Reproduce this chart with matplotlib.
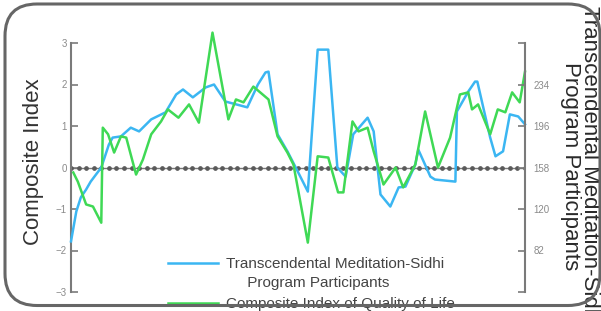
import numpy as np
import matplotlib
matplotlib.use('Agg')
import matplotlib.pyplot as plt
from matplotlib.patches import FancyBboxPatch
from matplotlib.lines import Line2D

plt.rcParams['font.family'] = ['Liberation Sans', 'DejaVu Sans']

# TM-Sidhi participants (plotted against left composite scale)
tm_years = [1960.0, 1960.7, 1961.3, 1962.0, 1962.6, 1964.0, 1965.0, 1965.5, 1966.6, 1967.9,
            1969.0, 1970.6, 1972.5, 1973.9, 1974.8, 1976.1, 1977.8, 1978.9, 1980.4, 1983.3,
            1984.7, 1985.7, 1986.1, 1987.3, 1988.6, 1989.7, 1991.3, 1992.6, 1994.0, 1995.2,
            1996.3, 1997.3, 1999.2, 2000.0, 2000.9, 2002.2, 2003.3, 2004.2, 2005.5, 2005.9,
            2007.5, 2008.1, 2010.8, 2011.0, 2012.5, 2013.4, 2013.7, 2015.4, 2016.1, 2017.1,
            2018.0, 2019.1, 2020.0]
tm_values = [-1.78, -1.06, -0.72, -0.53, -0.34, 0.0, 0.55, 0.72, 0.75, 0.96,
             0.87, 1.16, 1.33, 1.76, 1.88, 1.69, 1.93, 2.0, 1.59, 1.45,
             2.0, 2.29, 2.31, 0.80, 0.39, 0.0, -0.58, 2.84, 2.84, 0.0,
             -0.22, 0.80, 1.20, 0.87, -0.65, -0.94, -0.48, -0.46, 0.07, 0.43,
             -0.22, -0.29, -0.34, 1.35, 1.83, 2.07, 2.07, 0.72, 0.27, 0.39,
             1.28, 1.23, 1.04]

# Composite index of quality of life
qol_years = [1960.3, 1960.9, 1962.0, 1962.9, 1964.0, 1964.2, 1964.9, 1965.7, 1966.6, 1967.3,
             1968.6, 1969.5, 1970.6, 1971.9, 1972.8, 1974.2, 1975.6, 1976.9, 1978.7, 1980.8,
             1981.8, 1982.8, 1984.1, 1986.1, 1987.3, 1988.6, 1989.4, 1991.3, 1992.6, 1994.0,
             1995.3, 1996.0, 1997.2, 1998.0, 1999.2, 2000.0, 2001.3, 2002.9, 2003.9, 2005.5,
             2006.8, 2008.5, 2010.1, 2011.4, 2012.5, 2013.0, 2013.8, 2015.4, 2016.4, 2017.4,
             2018.3, 2019.3, 2020.0]
qol_values = [-0.12, -0.34, -0.89, -0.94, -1.33, 0.96, 0.80, 0.36, 0.75, 0.72,
              -0.17, 0.19, 0.80, 1.11, 1.40, 1.20, 1.52, 1.08, 3.25, 1.16,
              1.64, 1.57, 1.95, 1.64, 0.75, 0.36, 0.07, -1.81, 0.27, 0.24,
              -0.60, -0.60, 1.11, 0.87, 0.96, 0.39, -0.41, 0.0, -0.48, 0.07,
              1.35, 0.0, 0.72, 1.76, 1.81, 1.40, 1.52, 0.80, 1.40, 1.33,
              1.81, 1.57, 2.31]

baseline_years = np.arange(1960, 2021)
left_ticks = [-3, -2, -1, 0, 1, 2, 3]
right_ticks = [44, 82, 120, 158, 196, 234, 272]
right_labels = ['', '82', '120', '158', '196', '234', '']

blue = '#3bb6f2'
green = '#3fd955'
tick_col = '#8a8a8a'

fig = plt.figure(figsize=(6.01, 3.11), dpi=100)
ax = fig.add_axes([71 / 601, 1 - 292 / 311, (525 - 71) / 601, (292 - 43) / 311])

ax.plot(baseline_years, np.zeros(len(baseline_years)), color='#777777', lw=1,
        marker='o', ms=2.4, mfc='#5a5a5a', mec='#5a5a5a', zorder=2)
ax.plot(tm_years, tm_values, color=blue, lw=1.8, zorder=3, clip_on=False)
ax.plot(qol_years, qol_values, color=green, lw=1.8, zorder=4, clip_on=False)

ax.set_xlim(1960, 2020)
ax.set_ylim(-3, 3)
ax.set_xticks([])
ax.set_yticks(left_ticks)
for s in ['top', 'bottom', 'right']:
    ax.spines[s].set_visible(False)
ax.spines['left'].set_color('#7a7a7a')
ax.spines['left'].set_linewidth(1.5)
ax.tick_params(axis='y', direction='in', length=5, width=1.2, color='#7a7a7a',
               labelsize=7, labelcolor=tick_col, pad=3)

ax2 = ax.twinx()
ax2.set_ylim(44, 272)
ax2.set_yticks(right_ticks)
ax2.set_yticklabels(right_labels)
for s in ['top', 'bottom', 'left']:
    ax2.spines[s].set_visible(False)
ax2.spines['right'].set_color('#7a7a7a')
ax2.spines['right'].set_linewidth(1.5)
ax2.tick_params(axis='y', direction='in', length=5, width=1.2, color='#7a7a7a',
                labelsize=7, labelcolor=tick_col, pad=6)

# legend: two pieces so the blue handle sits on the first text line
h_blue = Line2D([], [], color=blue, lw=1.8)
h_none = Line2D([], [], color='none')
h_green = Line2D([], [], color=green, lw=1.8)
leg1 = ax2.legend([h_blue, h_none],
                  ['Transcendental Meditation-Sidhi', '     Program Participants'],
                  loc='upper left', bbox_to_anchor=(168 / 601, 1 - 257 / 311),
                  bbox_transform=fig.transFigure, frameon=False, fontsize=11,
                  handlelength=3.3, handletextpad=0.5, labelspacing=0.3,
                  borderpad=0, borderaxespad=0)
for t in leg1.get_texts():
    t.set_color('#444444')
ax2.add_artist(leg1)
leg2 = ax2.legend([h_green], ['Composite Index of Quality of Life'],
                  loc='upper left', bbox_to_anchor=(168 / 601, 1 - 297 / 311),
                  bbox_transform=fig.transFigure, frameon=False, fontsize=11,
                  handlelength=3.3, handletextpad=0.5,
                  borderpad=0, borderaxespad=0)
for t in leg2.get_texts():
    t.set_color('#444444')

fig.text(34 / 601, 1 - 162 / 311, 'Composite Index', rotation=90, fontsize=16,
         color='#333333', ha='center', va='center')
rlab = fig.text(580 / 601, 1 - 166 / 311,
                'Transcendental Meditation-Sidhi\nProgram Participants',
                rotation=270, fontsize=16, color='#2a2a2a', ha='center', va='center',
                multialignment='center', linespacing=0.92)

# rounded frame round the whole picture
box = FancyBboxPatch((0.05, 0.055), 5.95, 3.015,
                     boxstyle='round,pad=0,rounding_size=0.32',
                     transform=fig.dpi_scale_trans, fc='none', ec='#666666',
                     lw=2.2, zorder=10)
fig.add_artist(box)
rlab.set_clip_path(box)
for t in leg1.get_texts() + leg2.get_texts():
    t.set_clip_path(box)

fig.savefig('out.png', dpi=100)
